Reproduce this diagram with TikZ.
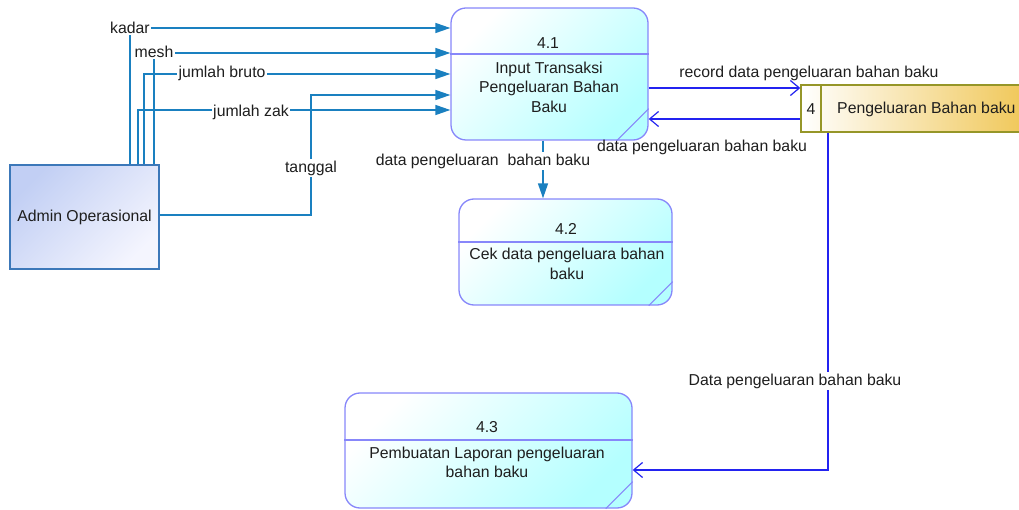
\documentclass[tikz,border=0pt]{standalone}
\usepackage{fontspec}
\setmainfont{Liberation Sans}
\usetikzlibrary{arrows.meta,calc}
\definecolor{tealflow}{RGB}{26,128,192}
\definecolor{blueflow}{RGB}{35,35,240}
\definecolor{procedge}{RGB}{135,135,250}
\definecolor{proccyan}{RGB}{180,255,255}
\definecolor{admedge}{RGB}{60,120,185}
\definecolor{admfillA}{RGB}{194,207,244}
\definecolor{admfillB}{RGB}{244,245,254}
\definecolor{storeedge}{RGB}{150,150,40}
\definecolor{storegold}{RGB}{240,200,90}
\definecolor{txt}{RGB}{30,30,30}
\begin{document}
\begin{tikzpicture}[x=1pt,y=-1pt,
  font=\fontsize{15.8}{19.5}\selectfont, text=txt,
  proc/.style={draw=procedge, line width=1.3pt, rounded corners=15pt,
    top color=white, bottom color=proccyan, shading angle=45, inner sep=0pt},
  procline/.style={draw=procedge, line width=1.3pt},
  entity/.style={draw=admedge, line width=1.3pt, top color=admfillA, bottom color=admfillB,
    shading angle=45, inner sep=0pt},
  store/.style={draw=storeedge, line width=1.4pt, left color=white, right color=storegold, inner sep=0pt},
  tflow/.style={draw=tealflow, line width=1.4pt, -{Triangle[length=15pt,width=10pt]}},
  bflow/.style={draw=blueflow, line width=1.4pt, -{Straight Barb[length=9pt,width=15pt,line width=1.2pt]}},
  lbl/.style={fill=white, inner sep=1.5pt},
  plain/.style={inner sep=1pt}]
\useasboundingbox (0,0) rectangle (1019,510);

% ---------- external entity ----------
\node[entity, minimum width=149pt, minimum height=104pt] (adm) at (84.5,217) {};
\node[plain] (admt) at (84.5,217) {Admin Operasional};

% ---------- process 4.1 ----------
\node[proc, minimum width=197pt, minimum height=132pt] (p41) at (549.5,74) {};
\draw[procline] (p41.west |- 0,54) -- (p41.east |- 0,54);
\draw[procline, line width=1pt] ($(p41.south east)+(-32,0)$) -- ($(p41.south east)+(0,-32)$);
\node[plain] (p41n) at (548,43) {4.1};
\node[plain, align=center] (p41t) at (549,87) {Input Transaksi\\Pengeluaran Bahan\\Baku};

% ---------- process 4.2 ----------
\node[proc, minimum width=213pt, minimum height=106pt] (p42) at (565.5,252) {};
\draw[procline] (p42.west |- 0,242) -- (p42.east |- 0,242);
\draw[procline, line width=1pt] ($(p42.south east)+(-24,0)$) -- ($(p42.south east)+(0,-24)$);
\node[plain] (p42n) at (566,229) {4.2};
\node[plain, align=center] (p42t) at (567,264) {Cek data pengeluara bahan\\baku};

% ---------- process 4.3 ----------
\node[proc, minimum width=287pt, minimum height=115pt] (p43) at (488.5,450.5) {};
\draw[procline] (p43.west |- 0,440) -- (p43.east |- 0,440);
\draw[procline, line width=1pt] ($(p43.south east)+(-27,0)$) -- ($(p43.south east)+(0,-27)$);
\node[plain] (p43n) at (487,427) {4.3};
\node[plain, align=center] (p43t) at (487,462.5) {Pembuatan Laporan pengeluaran\\bahan baku};

% ---------- data store ----------
\node[store, minimum width=222pt, minimum height=47pt] (ds) at (912,108.5) {};
\draw[storeedge, line width=1.4pt] (ds.north -| 821,0) -- (ds.south -| 821,0);
\node[plain] (dsn) at (811,109) {4};
\node[plain, anchor=west] (dst) at (836,109) {Pengeluaran Bahan baku};

% ---------- flows from the entity ----------
\draw[tflow] (adm.north -| 130,0) -- (130,28) -- (p41.west |- 0,28);
\node[lbl] (lkadar) at (130,28) {kadar};
\draw[tflow] (adm.north -| 154,0) -- (154,53) -- (p41.west |- 0,53);
\node[lbl] (lmesh) at (154,52) {mesh};
\draw[tflow] (adm.north -| 144,0) -- (144,74) -- (p41.west |- 0,74);
\node[lbl] (lbruto) at (222,73) {jumlah bruto};
\draw[tflow] (adm.north -| 138,0) -- (138,110) -- (p41.west |- 0,110);
\node[lbl] (lzak) at (251,112) {jumlah zak};
\draw[tflow] (adm.east |- 0,215) -- (311,215) -- (311,95) -- (p41.west |- 0,95);
\node[lbl] (ltgl) at (311,168) {tanggal};

% ---------- 4.1 -> 4.2 ----------
\draw[tflow] (p41.south -| 543,0) -- (p42.north -| 543,0);
\node[lbl] (l4142) at (483,161) {data pengeluaran\ \ bahan baku};

% ---------- 4.1 <-> data store ----------
\draw[bflow] (p41.east |- 0,88) -- (ds.west |- 0,88);
\node[plain] (lrec) at (809,73) {record data pengeluaran bahan baku};
\draw[bflow] (ds.west |- 0,119) -- (p41.east |- 0,119);
\node[plain] (lret) at (702,147) {data pengeluaran bahan baku};

% ---------- data store -> 4.3 ----------
\draw[bflow] (ds.south -| 828,0) -- (828,470) -- (p43.east |- 0,470);
\node[lbl] (l43) at (795,381) {Data pengeluaran bahan baku};
\end{tikzpicture}
\end{document}
